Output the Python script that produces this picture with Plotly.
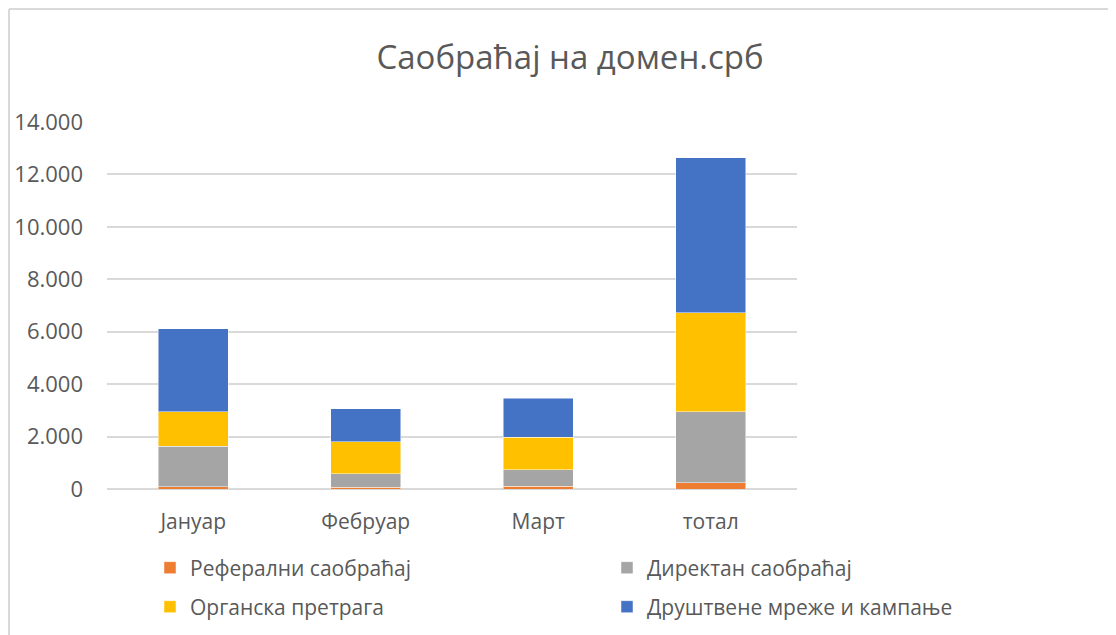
import plotly.graph_objects as go

categories = ["Јануар", "Фебруар", "Март", "тотал"]
referral = [80, 60, 100, 240]
direct = [1560, 515, 625, 2710]
organic = [1300, 1230, 1250, 3780]
social = [3170, 1260, 1490, 5915]

series_names = ["Реферални саобраћај", "Директан саобраћај", "Органска претрага", "Друштвене мреже и кампање"]
colors = ["#ED7D31", "#A5A5A5", "#FFC000", "#4472C4"]
legend_ids = ["legend", "legend2", "legend3", "legend4"]

# page body has an 8px margin, so the figure is drawn offset by 8px
OFF = 8
W, H = 1116 - OFF, 635 - OFF
L, R, T, B = 107 - OFF, 797 - OFF, 122 - OFF, 489 - OFF

FONT = "Open Sans"
TXT = "#595959"

fig = go.Figure()
for name, vals, col, lg in zip(series_names, [referral, direct, organic, social], colors, legend_ids):
    fig.add_trace(go.Bar(
        x=categories, y=vals, name=name, legend=lg, showlegend=True,
        marker=dict(color=col, line=dict(color="rgba(255,255,255,0.6)", width=0.8)),
    ))

def px_to_paper_x(px):
    return (px - L) / (R - L)

def px_to_paper_y(py):
    return (B - py) / (B - T)

def legend_at(xpx, ypx):
    return dict(orientation="h", xref="container", yref="container",
                xanchor="left", yanchor="middle",
                x=(xpx - OFF) / W, y=1 - (ypx - OFF) / H,
                font=dict(size=21, color=TXT), bgcolor="rgba(0,0,0,0)")

col1, col2 = 150, 607
row1, row2 = 568, 607

fig.update_layout(
    width=W, height=H,
    showlegend=True,
    margin=dict(l=L, r=W - R, t=T, b=H - B, pad=0, autoexpand=False),
    barmode="stack",
    bargap=0.594,
    plot_bgcolor="white",
    paper_bgcolor="white",
    font=dict(family=FONT, color=TXT, size=21),
    title=dict(text="Саобраћај на домен.срб", x=(570 - OFF) / W, xanchor="center",
               xref="container", y=1 - (57 - OFF) / H, yanchor="middle", yref="container",
               font=dict(family=FONT, size=33, color=TXT)),
    xaxis=dict(showgrid=False, showline=False, ticks="", tickfont=dict(size=21, color=TXT),
               ticklabelstandoff=18),
    yaxis=dict(range=[0, 14000], dtick=2000, tickformat=",d", showgrid=True,
               gridcolor="#D9D9D9", gridwidth=1.6, zeroline=True, zerolinecolor="#D9D9D9",
               zerolinewidth=1.6, showline=False, ticks="",
               tickfont=dict(size=22, color=TXT), ticklabelstandoff=23),
    separators=",.",
    legend=legend_at(col1, row1),
    legend2=legend_at(col2, row1),
    legend3=legend_at(col1, row2),
    legend4=legend_at(col2, row2),
    shapes=[
        dict(type="line", xref="paper", yref="paper",
             x0=px_to_paper_x(9 - OFF), x1=px_to_paper_x(W), y0=px_to_paper_y(9 - OFF), y1=px_to_paper_y(9 - OFF),
             line=dict(color="#D9D9D9", width=2)),
        dict(type="line", xref="paper", yref="paper",
             x0=px_to_paper_x(9 - OFF), x1=px_to_paper_x(9 - OFF), y0=px_to_paper_y(9 - OFF), y1=px_to_paper_y(H),
             line=dict(color="#D9D9D9", width=2)),
    ],
)

fig.write_html("out.html")
